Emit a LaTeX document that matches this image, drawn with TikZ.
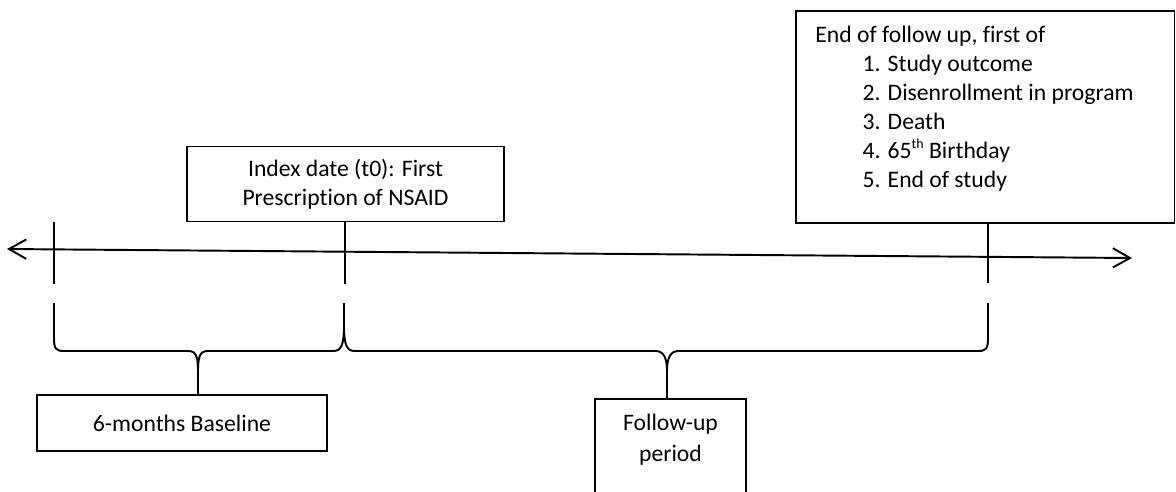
\documentclass[tikz,border=0pt]{standalone}
\usepackage{fontspec}
\setmainfont{Carlito}[Ligatures=NoCommon]
\usepackage{tikz}
\usetikzlibrary{arrows.meta,calc}
\newcommand{\supth}{\raisebox{4.5pt}{\fontsize{6.5pt}{6.5pt}\selectfont th}}

\begin{document}
\begin{tikzpicture}[x=0.465pt, y=-0.465pt, line width=0.9pt, font=\fontsize{11pt}{13.5pt}\selectfont, >={Straight Barb[length=8pt, width=9pt]}, box/.style={draw, rectangle, align=center, inner sep=0pt}, note/.style={draw, rectangle, align=flush left, inner xsep=9pt, inner ysep=7pt}]
\useasboundingbox (0,0) rectangle (1176,491);
\clip (0,0) rectangle (1176,491);
\node[box, minimum width=147.4pt, minimum height=34.9pt] (index) at (345.5,184) {Index date (t0): First\\Prescription of NSAID};
\node[box, minimum width=134.9pt, minimum height=26pt] (base) at (182,423) {6-months Baseline};
\node[box, anchor=north, minimum width=70.2pt, inner ysep=7pt, text depth=45pt] (follow) at (670.5,398) {Follow-up\\[1pt]period};
\node[note, anchor=north west, text width=158pt, text depth=77pt] (end) at (795,10) {End of follow up, first of\\
\hspace*{22pt}1. Study outcome\\
\hspace*{22pt}2. Disenrollment in program\\
\hspace*{22pt}3. Death\\
\hspace*{22pt}4. 65\supth{} Birthday\\
\hspace*{22pt}5. End of study};
% time axis
\coordinate (w) at (7,249);
\coordinate (e) at (1132,258);
\draw[<->] (w) -- (e);
% ticks
\coordinate (t1) at (54,284);
\coordinate (t2) at (345,284);
\coordinate (t3) at (988,283);
\draw (54,222) -- (t1);
\draw (index.south -| t2) -- (t2);
\draw (end.south -| t3) -- (t3);
% braces
\coordinate (b1) at (198,372);
\coordinate (b2) at (667,372);
\draw (54,303) -- (54,338) .. controls (54,349) and (56,351) .. (64,351) -- (188,351) .. controls (196,351) and (198,356) .. (b1) -- (b1 |- base.north);
\draw (b1) .. controls (198,356) and (200,351) .. (208,351) -- (333,351) .. controls (341,351) and (344,346) .. (344,325) -- (344,303);
\draw (344,325) .. controls (344,346) and (347,351) .. (355,351) -- (655,351) .. controls (663,351) and (667,356) .. (b2) -- (b2 |- follow.north);
\draw (b2) .. controls (667,356) and (671,351) .. (679,351) -- (978,351) .. controls (986,351) and (988,349) .. (988,338) -- (988,303);
\end{tikzpicture}
\end{document}
